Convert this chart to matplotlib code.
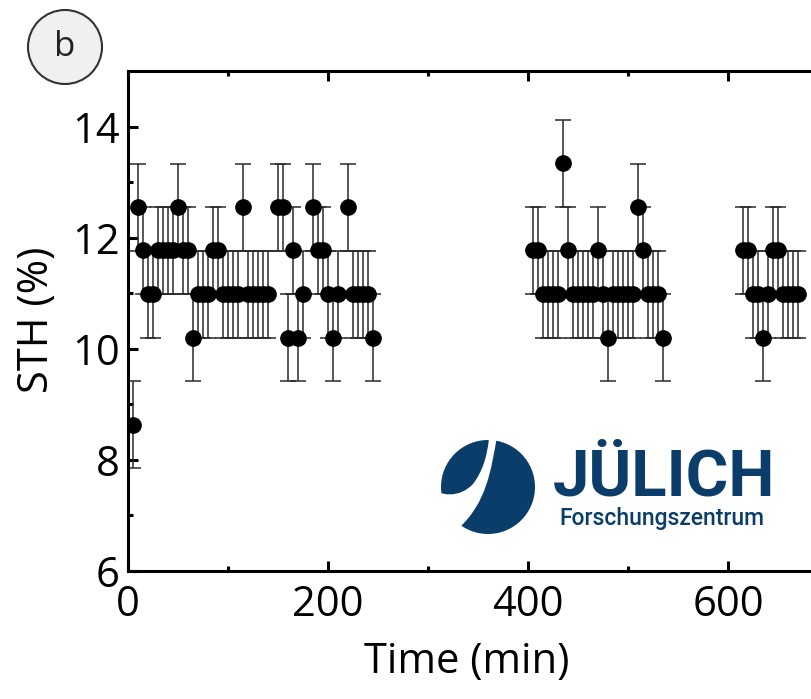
import numpy as np
import matplotlib
matplotlib.use("Agg")
import matplotlib.pyplot as plt
from matplotlib.patches import Circle, PathPatch
from matplotlib.path import Path

plt.rcParams['font.family'] = ['Open Sans', 'DejaVu Sans']

# STH levels seen in the picture (quantised steps)
L1, L2, L3, L4, L5, L6 = 8.63, 10.2, 10.98, 11.77, 12.55, 13.34
err = 0.785

# time (min) and STH (%)
t1 = [5, 10, 15, 20, 25, 30, 35, 40, 45, 50, 55, 60, 65, 70, 75, 80, 85, 90,
      95, 100, 105, 110, 115, 120, 125, 130, 135, 140, 150, 155, 160, 165, 170,
      175, 185, 190, 195, 200, 205, 210, 220, 225, 230, 235, 240, 245]
s1 = [L1, L5, L4, L3, L3, L4, L4, L4, L4, L5, L4, L4, L2, L3, L3, L3, L4, L4,
      L3, L3, L3, L3, L5, L3, L3, L3, L3, L3, L5, L5, L2, L4, L2,
      L3, L5, L4, L4, L3, L2, L3, L5, L3, L3, L3, L3, L2]

t2 = [405, 410, 415, 420, 425, 430, 435, 440, 445, 450, 455, 460, 465, 470,
      475, 480, 485, 490, 495, 500, 505, 510, 515, 520, 525, 530, 535]
s2 = [L4, L4, L3, L3, L3, L3, L6, L4, L3, L3, L3, L3, L3, L4,
      L3, L2, L3, L3, L3, L3, L3, L5, L4, L3, L3, L3, L2]

t3 = [615, 620, 625, 630, 635, 640, 645, 650, 655, 660, 665, 670]
s3 = [L4, L4, L3, L3, L2, L3, L4, L4, L3, L3, L3, L3]

time = np.array(t1 + t2 + t3)
sth = np.array(s1 + s2 + s3)

W, H = 811, 699
fig = plt.figure(figsize=(W / 100, H / 100), dpi=100)
ax = fig.add_axes([128 / W, (H - 571) / H, 800 / W, 500 / H])

ax.errorbar(time, sth, yerr=err, fmt='o', color='black', ms=11,
            ecolor='#2a2a2a', elinewidth=1.1, capsize=6, capthick=1.1)

ax.set_xlim(0, 800)
ax.set_ylim(6, 15)
ax.set_xticks([0, 200, 400, 600])
ax.set_xticks([100, 300, 500, 700], minor=True)
ax.set_yticks([6, 8, 10, 12, 14])
ax.set_yticks([7, 9, 11, 13], minor=True)
for sp in ax.spines.values():
    sp.set_linewidth(2.2)
ax.tick_params(which='both', direction='in', top=True, right=True, width=2.2,
               labelsize=30)
ax.tick_params(axis='x', pad=9)
ax.tick_params(axis='y', pad=6)
ax.tick_params(which='major', length=7)
ax.tick_params(which='minor', length=3.5)
ax.set_xlabel('Time (min)', fontsize=30, va='center')
ax.set_ylabel('STH (%)', fontsize=30, va='center')
# label centres in pixels of the reference
ax.xaxis.set_label_coords((467 - 128) / 800, -(662 - 571) / 500)
ax.yaxis.set_label_coords(-(128 - 37) / 800, (571 - 320) / 500)

# overlay in pixel coordinates for the panel badge and logo
ov = fig.add_axes([0, 0, 1, 1], zorder=5)
ov.set_xlim(0, W)
ov.set_ylim(H, 0)
ov.axis('off')
ov.patch.set_alpha(0)

ov.add_patch(Circle((65, 47), 37, facecolor='#f0f0f0', edgecolor='#333333', lw=1.5))
ov.text(65, 47, 'b', fontsize=25, ha='center', va='center', color='#222222')

blue = '#0b3d6b'
ov.add_patch(Circle((488, 487), 47, facecolor=blue, edgecolor='none'))
gap = Path([(497, 436), (491, 472), (486, 502), (460, 527),
            (428, 532), (428, 486),
            (440, 497), (460, 498), (473, 484),
            (482, 472), (487, 458), (489, 438),
            (497, 436)],
           [Path.MOVETO, Path.CURVE4, Path.CURVE4, Path.CURVE4,
            Path.LINETO, Path.LINETO,
            Path.CURVE4, Path.CURVE4, Path.CURVE4,
            Path.CURVE4, Path.CURVE4, Path.CURVE4,
            Path.CLOSEPOLY])
ov.add_patch(PathPatch(gap, facecolor='white', edgecolor='none'))
ov.text(553, 495, 'JÜLICH', fontsize=47, fontweight='bold', color=blue,
        family=['Roboto', 'DejaVu Sans'], ha='left', va='baseline')
ov.text(559, 525, 'Forschungszentrum', fontsize=16.5, fontweight='medium',
        color=blue, family=['Roboto', 'DejaVu Sans'], ha='left', va='baseline')

fig.savefig('out.png', dpi=100)
